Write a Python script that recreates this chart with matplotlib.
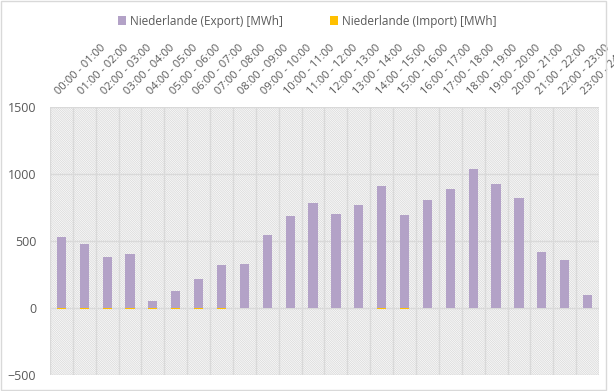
import matplotlib.pyplot as plt
import numpy as np
from matplotlib.patches import Rectangle

plt.rcParams['font.family'] = ['Open Sans', 'DejaVu Sans']
plt.rcParams['hatch.linewidth'] = 0.35

hours = ['00:00 - 01:00', '01:00 - 02:00', '02:00 - 03:00', '03:00 - 04:00', '04:00 - 05:00',
         '05:00 - 06:00', '06:00 - 07:00', '07:00 - 08:00', '08:00 - 09:00', '09:00 - 10:00',
         '10:00 - 11:00', '11:00 - 12:00', '12:00 - 13:00', '13:00 - 14:00', '14:00 - 15:00',
         '15:00 - 16:00', '16:00 - 17:00', '17:00 - 18:00', '18:00 - 19:00', '19:00 - 20:00',
         '20:00 - 21:00', '21:00 - 22:00', '22:00 - 23:00', '23:00 - 24:00']
export = [530, 480, 383, 405, 52, 127, 219, 321, 331, 545, 687, 786,
          703, 769, 910, 694, 806, 888, 1037, 925, 821, 418, 358, 97]
imports = [-8, -8, -8, -8, -8, -8, -8, -8, 0, 0, 0, 0,
           0, 0, -8, -8, 0, 0, 0, 0, 0, 0, 0, 0]

fig = plt.figure(figsize=(6.14, 3.91), dpi=100)
fig.patches.append(Rectangle((0.002, 0.003), 0.985, 0.994, transform=fig.transFigure,
                             fill=False, edgecolor='#d9d9d9', linewidth=1))
ax = fig.add_axes([0.0814, 0.0409, 0.8942, 0.6854])

x = np.arange(len(hours))
ax.set_xlim(-0.5, len(hours) - 0.5)
ax.set_ylim(-500, 1500)

# hatched background
ax.add_patch(Rectangle((-0.5, -500), len(hours), 2000, facecolor='white',
                       edgecolor='#c8c8c8', hatch='\\' * 18, linewidth=0, zorder=0))

for v in np.arange(-500, 1501, 500):
    ax.axhline(v, color='#d9d9d9', linewidth=1, zorder=1)
for b in np.arange(-0.5, len(hours), 1):
    ax.axvline(b, color='#d9d9d9', linewidth=1, zorder=1)

ax.bar(x, export, width=0.4, color='#b3a2c7', zorder=3, label='Niederlande (Export) [MWh]')
ax.bar(x, imports, width=0.4, color='#ffc000', zorder=3, label='Niederlande (Import) [MWh]')

ax.set_yticks([-500, 0, 500, 1000, 1500])
ax.tick_params(axis='y', length=0, labelsize=9, labelcolor='#595959', pad=10)
ax.xaxis.tick_top()
ax.set_xticks(x)
ax.set_xticklabels(hours, rotation=45, ha='left', rotation_mode='anchor')
ax.tick_params(axis='x', length=0, labelsize=8, labelcolor='#595959', pad=7)
for s in ax.spines.values():
    s.set_visible(False)

fig.legend(loc='upper center', bbox_to_anchor=(0.5, 0.99), ncol=2, frameon=False,
           fontsize=8.5, handlelength=0.7, handleheight=0.7, columnspacing=4,
           handletextpad=0.3, labelcolor='#595959')

fig.savefig('out.png', dpi=100)
